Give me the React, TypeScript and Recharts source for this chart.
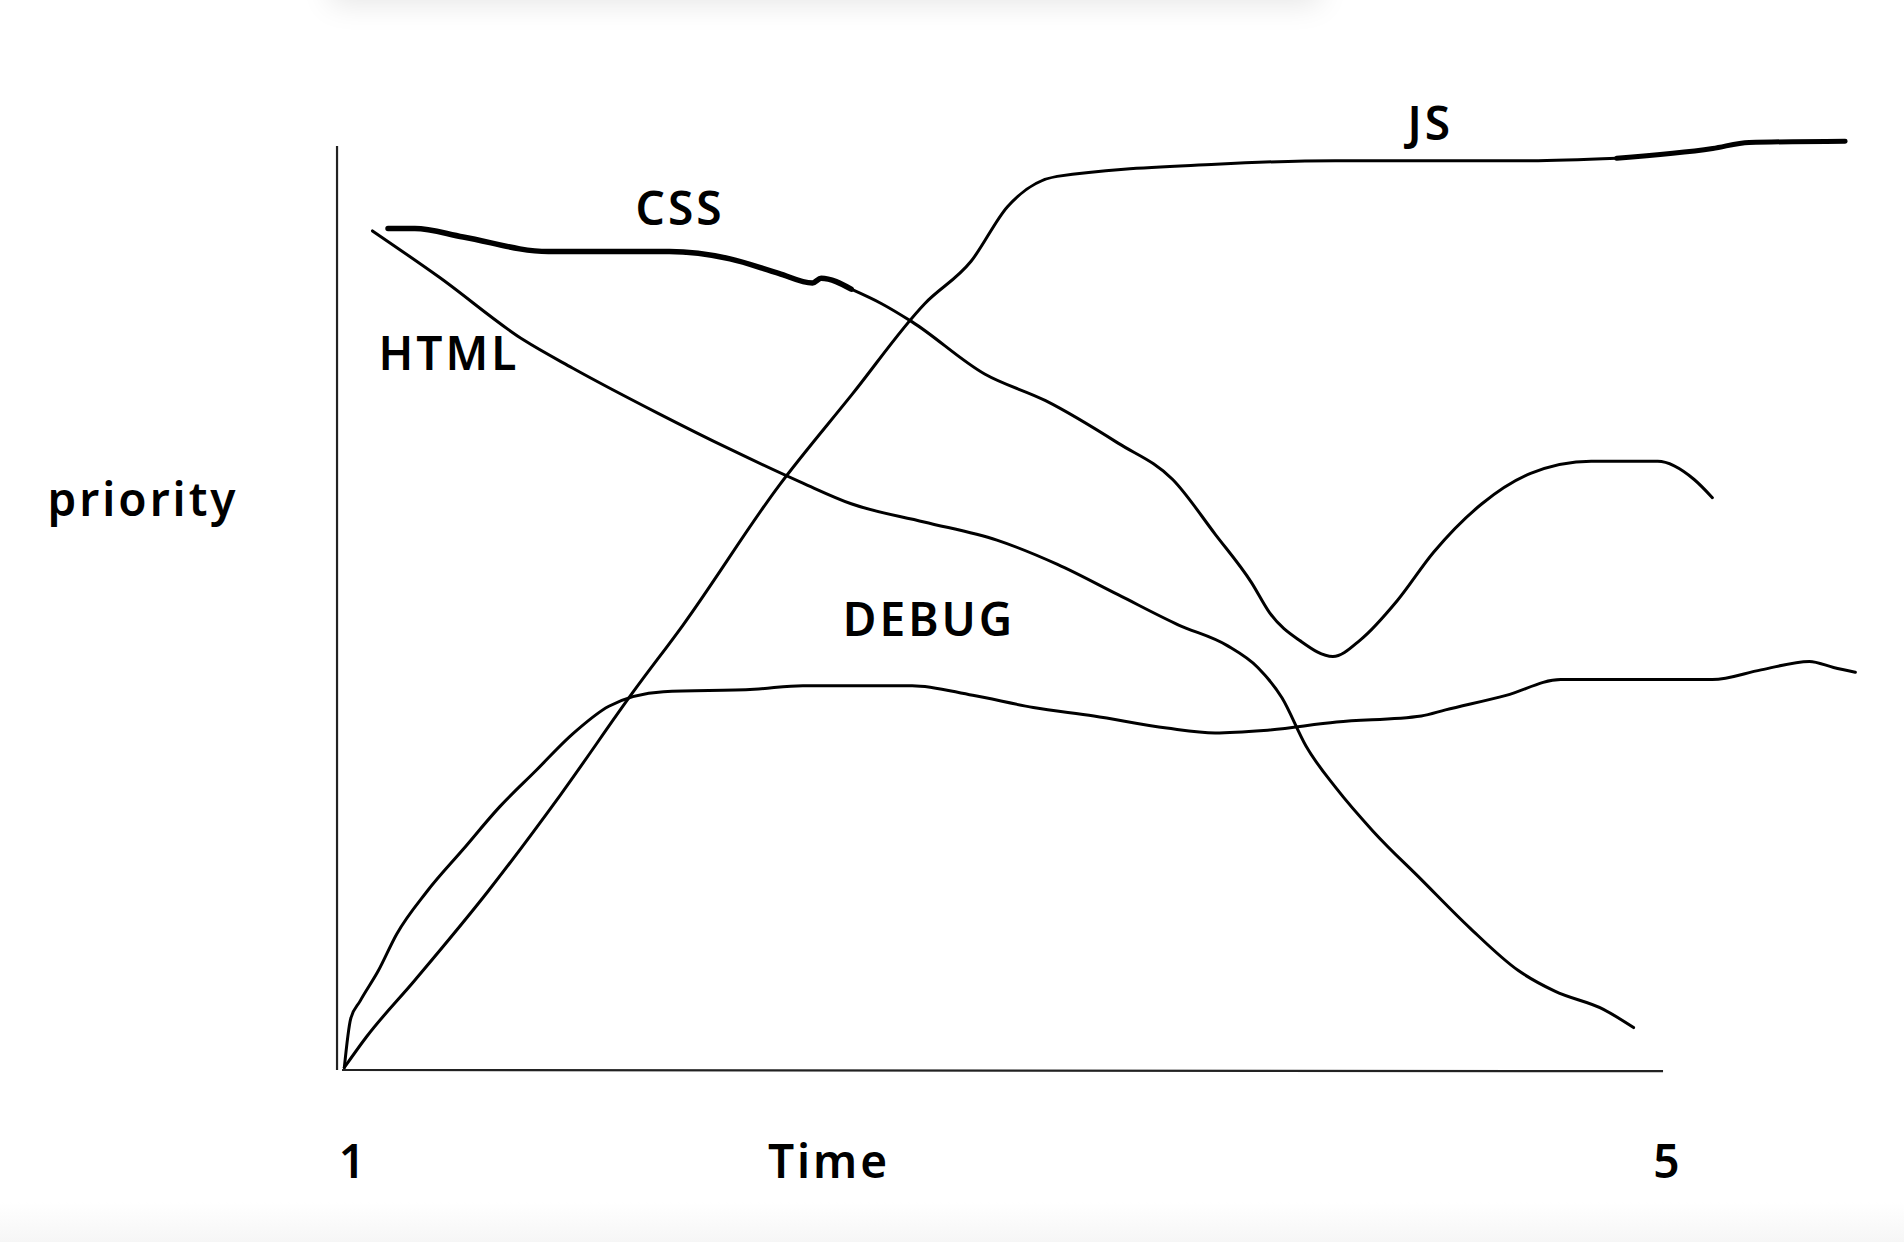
import { LineChart, Line, XAxis, YAxis, ReferenceLine, ReferenceDot } from 'recharts'

type Pt = { x: number; y: number }

// hand sketched curves, x = time (1..5+), y = priority
const jsMain: Pt[] = [
  { x: 1.007, y: 2 }, { x: 1.073, y: 27 }, { x: 1.22, y: 74 }, { x: 1.44, y: 147 },
  { x: 1.66, y: 227 }, { x: 1.88, y: 312 }, { x: 2.03, y: 367 }, { x: 2.32, y: 482 },
  { x: 2.54, y: 557 }, { x: 2.76, y: 632 }, { x: 2.9, y: 667 }, { x: 3.01, y: 712 },
  { x: 3.16, y: 737 }, { x: 3.64, y: 747 }, { x: 4.0, y: 750 }, { x: 4.59, y: 750 },
  { x: 4.85, y: 752 },
]
const jsTail: Pt[] = [
  { x: 4.85, y: 752 }, { x: 5.14, y: 760 }, { x: 5.25, y: 765 }, { x: 5.54, y: 766 },
]

const cssTop: Pt[] = [
  { x: 1.139, y: 694 }, { x: 1.22, y: 694 }, { x: 1.366, y: 687 }, { x: 1.623, y: 675 },
  { x: 1.989, y: 675 }, { x: 2.172, y: 669 }, { x: 2.319, y: 657 }, { x: 2.421, y: 649 },
  { x: 2.447, y: 653 }, { x: 2.538, y: 644 },
]
const cssTail: Pt[] = [
  { x: 2.538, y: 644 }, { x: 2.63, y: 632 }, { x: 2.722, y: 617 }, { x: 2.941, y: 574 },
  { x: 3.125, y: 552 }, { x: 3.344, y: 517 }, { x: 3.509, y: 487 }, { x: 3.637, y: 442 },
  { x: 3.747, y: 402 }, { x: 3.802, y: 377 }, { x: 3.894, y: 354 }, { x: 3.993, y: 341 },
  { x: 4.077, y: 355 }, { x: 4.187, y: 387 }, { x: 4.297, y: 427 }, { x: 4.443, y: 467 },
  { x: 4.59, y: 492 }, { x: 4.773, y: 502 }, { x: 4.974, y: 502 }, { x: 5.084, y: 487 },
  { x: 5.139, y: 472 },
]

const html: Pt[] = [
  { x: 1.092, y: 692 }, { x: 1.293, y: 654 }, { x: 1.549, y: 602 }, { x: 1.696, y: 579 },
  { x: 1.952, y: 542 }, { x: 2.172, y: 512 }, { x: 2.392, y: 484 }, { x: 2.538, y: 467 },
  { x: 2.758, y: 452 }, { x: 2.978, y: 437 }, { x: 3.161, y: 417 }, { x: 3.344, y: 392 },
  { x: 3.527, y: 367 }, { x: 3.674, y: 350 }, { x: 3.766, y: 332 }, { x: 3.839, y: 307 },
  { x: 3.912, y: 267 }, { x: 4.004, y: 232 }, { x: 4.114, y: 197 }, { x: 4.26, y: 157 },
  { x: 4.407, y: 117 }, { x: 4.553, y: 82 }, { x: 4.663, y: 65 }, { x: 4.81, y: 50 },
  { x: 4.901, y: 35 },
]

const debug: Pt[] = [
  { x: 1.007, y: 2 }, { x: 1.026, y: 42 }, { x: 1.055, y: 57 }, { x: 1.11, y: 82 },
  { x: 1.165, y: 112 }, { x: 1.256, y: 147 }, { x: 1.366, y: 182 }, { x: 1.476, y: 217 },
  { x: 1.586, y: 247 }, { x: 1.696, y: 277 }, { x: 1.806, y: 300 }, { x: 1.971, y: 312 },
  { x: 2.245, y: 314 }, { x: 2.392, y: 317 }, { x: 2.722, y: 317 }, { x: 2.905, y: 309 },
  { x: 3.088, y: 299 }, { x: 3.271, y: 292 }, { x: 3.491, y: 282 }, { x: 3.637, y: 278 },
  { x: 3.784, y: 280 }, { x: 4.004, y: 287 }, { x: 4.26, y: 292 }, { x: 4.333, y: 297 },
  { x: 4.516, y: 309 }, { x: 4.681, y: 322 }, { x: 4.919, y: 322 }, { x: 5.139, y: 322 },
  { x: 5.286, y: 330 }, { x: 5.432, y: 337 }, { x: 5.505, y: 332 }, { x: 5.571, y: 328 },
]

const timeTicks = [1, 5]

const labels = [
  { text: 'JS', x: 4.287, y: 782 },
  { text: 'CSS', x: 2.021, y: 712 },
  { text: 'HTML', x: 1.323, y: 592 },
  { text: 'DEBUG', x: 2.773, y: 373 },
  { text: 'priority', x: 0.399, y: 472 },
  { text: 'Time', x: 2.471, y: -74 },
]

const FONT = '"Noto Sans", sans-serif'
const INK = '#000'
const LINE_W = 3

function SketchText({ viewBox, value }: any) {
  const cx = viewBox.x + (viewBox.width || 0) / 2
  const cy = viewBox.y + (viewBox.height || 0) / 2
  return (
    <text x={cx} y={cy} textAnchor="middle" dominantBaseline="central"
      fontFamily={FONT} fontSize={46} fontWeight={600} letterSpacing={3} fill={INK}>
      {value}
    </text>
  )
}

function TimeTick({ x, y, payload }: any) {
  const nudge = payload.value === 1 ? 10 : 0
  return (
    <text x={x + nudge} y={y + 82} textAnchor="middle" dominantBaseline="central"
      fontFamily={FONT} fontSize={46} fontWeight={600} fill={INK}>
      {payload.value}
    </text>
  )
}

export default function App() {
  return (
    <div style={{ position: 'absolute', left: 0, top: 0, width: 1904, height: 1242, background: '#fff', overflow: 'hidden' }}>
      <div style={{ position: 'absolute', left: 330, top: -40, width: 990, height: 40, background: '#fff', boxShadow: '0 4px 30px rgba(0,0,0,0.10)' }} />
      <div style={{ position: 'absolute', left: 0, bottom: 0, width: 1904, height: 40, background: 'linear-gradient(#fff, #f6f6f6)' }} />
      <div style={{ position: 'absolute', left: 0, top: 0 }}>
        <LineChart width={1904} height={1242} margin={{ top: 100, right: 39, bottom: 0, left: 0 }}>
          <XAxis type="number" dataKey="x" domain={[1, 5.6]} ticks={timeTicks} height={172}
            axisLine={false} tickLine={false} tick={<TimeTick />} allowDataOverflow />
          <YAxis type="number" dataKey="y" domain={[0, 800]} width={342}
            axisLine={false} tickLine={false} tick={false} allowDataOverflow />

          <ReferenceLine segment={[{ x: 0.985, y: 0 }, { x: 0.985, y: 762 }]} stroke="#222" strokeWidth={2.2} ifOverflow="visible" />
          <ReferenceLine segment={[{ x: 1, y: 0 }, { x: 4.99, y: -1 }]} stroke="#222" strokeWidth={2.2} ifOverflow="visible" />

          <Line data={jsMain} dataKey="y" type="monotone" stroke={INK} strokeWidth={LINE_W} dot={false} isAnimationActive={false} strokeLinecap="round" />
          <Line data={jsTail} dataKey="y" type="monotone" stroke={INK} strokeWidth={5} dot={false} isAnimationActive={false} strokeLinecap="round" />
          <Line data={cssTop} dataKey="y" type="monotone" stroke={INK} strokeWidth={5.5} dot={false} isAnimationActive={false} strokeLinecap="round" />
          <Line data={cssTail} dataKey="y" type="monotone" stroke={INK} strokeWidth={LINE_W} dot={false} isAnimationActive={false} strokeLinecap="round" />
          <Line data={html} dataKey="y" type="monotone" stroke={INK} strokeWidth={LINE_W} dot={false} isAnimationActive={false} strokeLinecap="round" />
          <Line data={debug} dataKey="y" type="monotone" stroke={INK} strokeWidth={LINE_W} dot={false} isAnimationActive={false} strokeLinecap="round" />

          {labels.map((l) => (
            <ReferenceDot key={l.text} x={l.x} y={l.y} r={0} fill="none" stroke="none" ifOverflow="visible"
              label={<SketchText value={l.text} />} />
          ))}
        </LineChart>
      </div>
    </div>
  )
}
